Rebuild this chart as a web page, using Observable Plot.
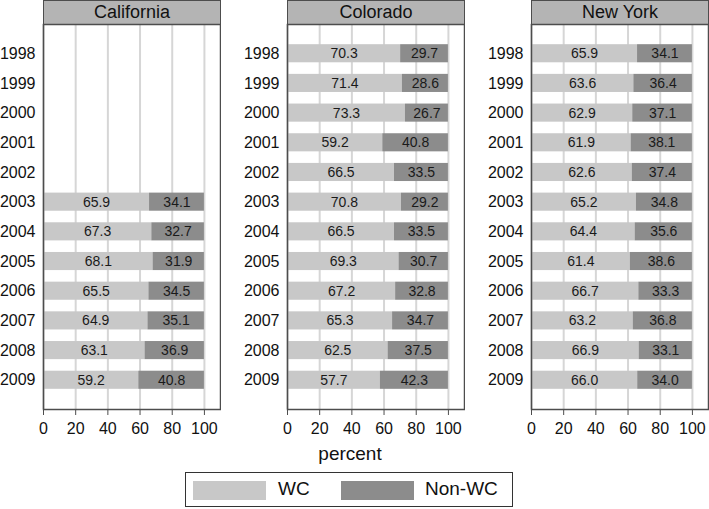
<!DOCTYPE html>
<html><head><meta charset="utf-8">
<script src="https://cdn.jsdelivr.net/npm/d3@7"></script>
<script src="https://cdn.jsdelivr.net/npm/@observablehq/plot@0.6"></script>
<style>
body{margin:0;background:#fff;font-family:"Liberation Sans",Arial,sans-serif;}
#root{position:relative;width:709px;height:509px;overflow:hidden;}
.panel{position:absolute;top:0;height:440px;}
.header{position:absolute;top:0;height:24px;box-sizing:border-box;border:1.5px solid #4d4d4d;border-bottom:none;background:#b4b4b4;font-size:18px;line-height:23px;text-align:center;color:#111;}
.panel svg{position:absolute;top:23px;left:0;max-width:none !important;}
#xlabel{position:absolute;left:250px;width:200px;top:443px;text-align:center;font-size:19px;line-height:21px;color:#111;}
#legend{position:absolute;left:185px;top:472px;width:328px;height:35px;box-sizing:border-box;border:1.5px solid #333;}
.sw{position:absolute;top:7.5px;width:73px;height:19px;}
.lt{position:absolute;top:5px;font-size:19px;line-height:22px;color:#111;}
</style>
</head><body>
<div id="root"></div>
<script>
const states = ["California", "Colorado", "New York"];
const years = [1998, 1999, 2000, 2001, 2002, 2003, 2004, 2005, 2006, 2007, 2008, 2009];
const series = ["WC", "Non-WC"];
const seriesColors = ["#c8c8c8", "#8c8c8c"];
const xTicks = [0, 20, 40, 60, 80, 100];

const caWC  = [null, null, null, null, null, 65.9, 67.3, 68.1, 65.5, 64.9, 63.1, 59.2];
const caNon = [null, null, null, null, null, 34.1, 32.7, 31.9, 34.5, 35.1, 36.9, 40.8];
const coWC  = [70.3, 71.4, 73.3, 59.2, 66.5, 70.8, 66.5, 69.3, 67.2, 65.3, 62.5, 57.7];
const coNon = [29.7, 28.6, 26.7, 40.8, 33.5, 29.2, 33.5, 30.7, 32.8, 34.7, 37.5, 42.3];
const nyWC  = [65.9, 63.6, 62.9, 61.9, 62.6, 65.2, 64.4, 61.4, 66.7, 63.2, 66.9, 66.0];
const nyNon = [34.1, 36.4, 37.1, 38.1, 37.4, 34.8, 35.6, 38.6, 33.3, 36.8, 33.1, 34.0];

const stateData = [[caWC, caNon], [coWC, coNon], [nyWC, nyNon]];
const frameLefts = [43, 287, 531];
const ml = 43, plotW = 177;

const root = document.getElementById("root");

states.forEach((st, i) => {
  const [wc, non] = stateData[i];
  const rows = years.map((y, j) => ({year: y, wc: wc[j], non: non[j]})).filter(d => d.wc != null);
  const panel = document.createElement("div");
  panel.className = "panel";
  panel.style.left = (frameLefts[i] - ml) + "px";
  panel.style.width = (ml + plotW + 1) + "px";
  const hdr = document.createElement("div");
  hdr.className = "header";
  hdr.style.left = ml + "px";
  hdr.style.width = (plotW + 1) + "px";
  hdr.textContent = st;
  const chart = Plot.plot({
    width: ml + plotW + 1,
    height: 416,
    marginLeft: ml, marginRight: 1, marginTop: 1, marginBottom: 30,
    style: {fontFamily: "Liberation Sans, Arial, sans-serif", fontSize: "16px", background: "transparent"},
    x: {domain: [0, 110], label: null},
    y: {domain: years, paddingInner: 0.39, paddingOuter: 0.68, round: false, label: null},
    marks: [
      Plot.gridX(xTicks, {stroke: "#d6d6d6", strokeOpacity: 1, strokeWidth: 2}),
      Plot.barX(rows, {y: "year", x1: 0, x2: "wc", fill: seriesColors[0]}),
      Plot.barX(rows, {y: "year", x1: "wc", x2: d => d.wc + d.non, fill: seriesColors[1]}),
      Plot.text(rows, {y: "year", x: d => d.wc / 2, text: d => d.wc.toFixed(1), fontSize: 14, fill: "#1a1a1a"}),
      Plot.text(rows, {y: "year", x: d => d.wc + d.non / 2, text: d => d.non.toFixed(1), fontSize: 14, fill: "#1a1a1a"}),
      Plot.frame({stroke: "#4d4d4d", strokeWidth: 1.5}),
      Plot.axisX({ticks: xTicks, tickSize: 6, tickPadding: 7, stroke: "#4d4d4d", fill: "#111", fontSize: 16, label: null, tickFormat: d => String(d)}),
      Plot.axisY({tickSize: 0, tickPadding: 8, fill: "#111", fontSize: 16, label: null, tickFormat: d => String(d)})
    ]
  });
  chart.style.maxWidth = "none";
  chart.style.width = (ml + plotW + 1) + "px";
  chart.style.height = "416px";
  panel.appendChild(hdr);
  panel.appendChild(chart);
  root.appendChild(panel);
});

const xl = document.createElement("div");
xl.id = "xlabel";
xl.textContent = "percent";
root.appendChild(xl);

const leg = document.createElement("div");
leg.id = "legend";
const swLeft = [7, 155], txtLeft = [92, 239];
series.forEach((s, k) => {
  const sw = document.createElement("div");
  sw.className = "sw";
  sw.style.left = swLeft[k] + "px";
  sw.style.background = seriesColors[k];
  const t = document.createElement("div");
  t.className = "lt";
  t.style.left = txtLeft[k] + "px";
  t.textContent = s;
  leg.appendChild(sw);
  leg.appendChild(t);
});
root.appendChild(leg);
</script>
</body></html>
